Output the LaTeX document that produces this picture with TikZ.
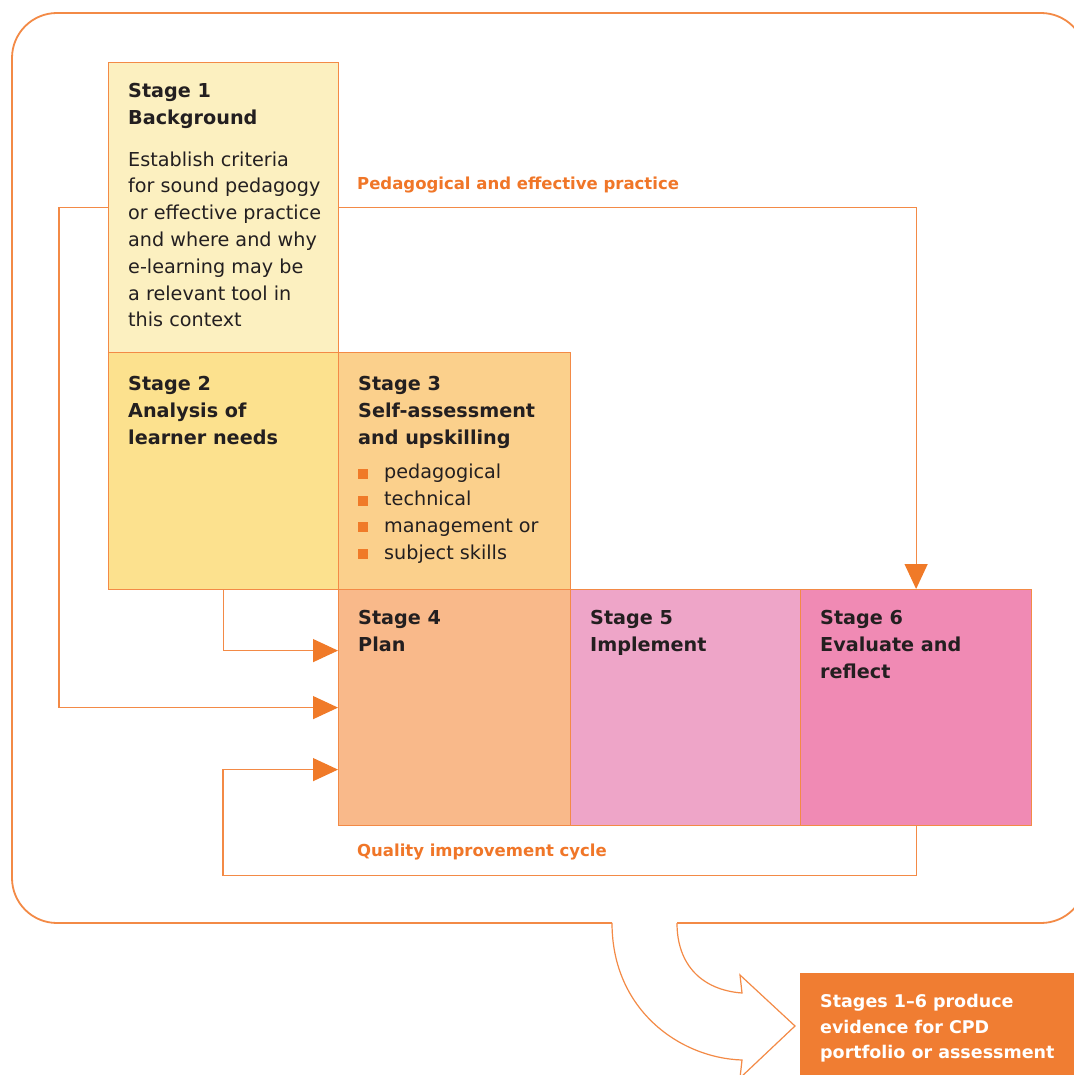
\documentclass[tikz,border=0pt]{standalone}
\usepackage{fontspec}
\setmainfont{DejaVu Sans}
\usetikzlibrary{positioning,arrows.meta}

\definecolor{lineorange}{RGB}{243,138,70}
\definecolor{tiporange}{RGB}{240,122,40}
\definecolor{labelorange}{RGB}{240,118,40}
\definecolor{boxorange}{RGB}{240,125,50}
\definecolor{inkdark}{RGB}{35,31,32}
\definecolor{fillone}{RGB}{252,240,192}
\definecolor{filltwo}{RGB}{252,225,142}
\definecolor{fillthree}{RGB}{251,208,140}
\definecolor{fillfour}{RGB}{249,185,138}
\definecolor{fillfive}{RGB}{238,165,200}
\definecolor{fillsix}{RGB}{240,138,180}

\newcommand{\stagebullet}{{\color{tiporange}\rule{10pt}{10pt}}\hspace{16pt}}

\begin{document}
\begin{tikzpicture}[x=1pt, y=-1pt,
  stagebox/.style={draw=lineorange, line width=1.2pt, anchor=north west, inner sep=0pt},
  stagetext/.style={inner sep=0pt, align=left, text=inkdark,
    font=\fontsize{19.2}{26.8}\selectfont},
  flow/.style={draw=lineorange, line width=1.2pt},
  flowtip/.style={-{Triangle[length=25pt, width=23pt, color=tiporange]}},
  flowlabel/.style={anchor=west, inner sep=0pt, text=labelorange,
    font=\fontsize{16.5}{20}\selectfont\bfseries}]

  % Page frame
  \path[fill=white] (0,0) rectangle (1073,1075);
  \useasboundingbox (0,0) rectangle (1073,1075);

  % Outer rounded frame, open at the bottom for the arrow
  \draw[lineorange, line width=1.8pt, rounded corners=45pt]
    (677,923) -- (1086,923) -- (1086,13) -- (12,13) -- (12,923) -- (612,923);

  % Stage boxes
  \node[stagebox, fill=fillone, minimum width=230pt, minimum height=290pt] (s1) at (108,62) {};
  \node[stagebox, fill=filltwo, minimum width=230pt, minimum height=237pt] (s2) at (108,352) {};
  \node[stagebox, fill=fillthree, minimum width=232pt, minimum height=237pt] (s3) at (338,352) {};
  \node[stagebox, fill=fillfour, minimum width=232pt, minimum height=236pt] (s4) at (338,589) {};
  \node[stagebox, fill=fillfive, minimum width=230pt, minimum height=236pt] (s5) at (570,589) {};
  \node[stagebox, fill=fillsix, minimum width=231pt, minimum height=236pt] (s6) at (800,589) {};

  % Stage texts
  \node[stagetext, below right=21pt and 20pt of s1.north west] (s1t)
    {\textbf{Stage 1}\\\textbf{Background}\\[15pt]Establish criteria\\for sound pedagogy\\
     or effective practice\\and where and why\\e-learning may be\\a relevant tool in\\this context};
  \node[stagetext, below right=24pt and 20pt of s2.north west] (s2t)
    {\textbf{Stage 2}\\\textbf{Analysis of}\\\textbf{learner needs}};
  \node[stagetext, below right=24pt and 20pt of s3.north west] (s3t)
    {\textbf{Stage 3}\\\textbf{Self-assessment}\\\textbf{and upskilling}\\[8pt]
     \stagebullet pedagogical\\\stagebullet technical\\\stagebullet management or\\
     \stagebullet subject skills};
  \node[stagetext, below right=21pt and 20pt of s4.north west] (s4t)
    {\textbf{Stage 4}\\\textbf{Plan}};
  \node[stagetext, below right=21pt and 20pt of s5.north west] (s5t)
    {\textbf{Stage 5}\\\textbf{Implement}};
  \node[stagetext, below right=21pt and 20pt of s6.north west] (s6t)
    {\textbf{Stage 6}\\\textbf{Evaluate and}\\\textbf{reflect}};

  % Connectors into Stage 4 and Stage 6
  \draw[flow, flowtip] (s1.east) -| (s6.north);
  \draw[flow, flowtip] (s1.west) -- ++(-49,0) |- (s4.west);
  \draw[flow, flowtip] (s2.south) |- ([yshift=57pt]s4.west);
  \coordinate (qloop) at ([xshift=-115pt, yshift=-62pt]s4.west);
  \draw[flow, flowtip] (s6.south) -- ++(0,49) -| (qloop) -- ([yshift=-62pt]s4.west);

  \node[flowlabel] (lped) at (357,185) {Pedagogical and effective practice};
  \node[flowlabel] (lqual) at (357,852) {Quality improvement cycle};

  % Outcome arrow and box
  \draw[flow, fill=white] (612,923) .. controls (612,1010) and (680,1058) .. (742,1060)
    -- (740,1078) -- (795,1026) -- (740,975) -- (742,993)
    .. controls (702,990) and (677,965) .. (677,923);
  \node[anchor=north west, fill=boxorange, inner sep=0pt,
    minimum width=280pt, minimum height=110pt] (cpd) at (800,973) {};
  \node[inner sep=0pt, align=left, text=white,
    font=\fontsize{17.5}{25.5}\selectfont\bfseries,
    below right=21pt and 20pt of cpd.north west] (cpdt)
    {Stages 1--6 produce\\evidence for CPD\\portfolio or assessment};
\end{tikzpicture}
\end{document}
